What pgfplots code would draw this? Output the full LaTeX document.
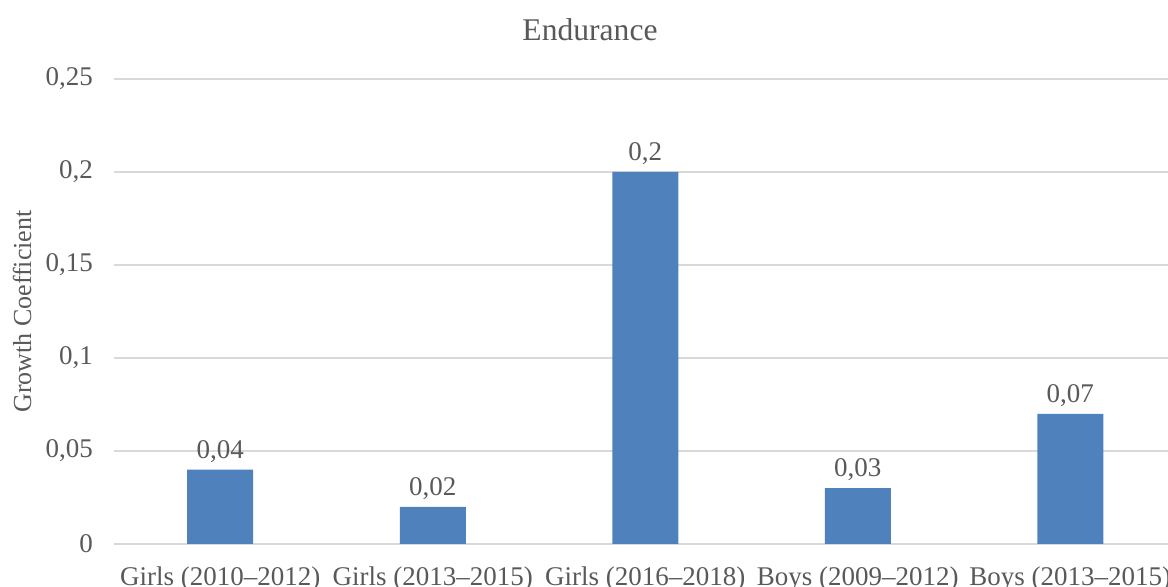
\documentclass[border=0pt]{standalone}
\usepackage{fontspec}
\setmainfont{Liberation Serif}
\usepackage{pgfplots}
\pgfplotsset{compat=1.18}
\definecolor{barblue}{HTML}{4F81BD}
\definecolor{txtgray}{HTML}{595959}
\definecolor{gridgray}{HTML}{D9D9D9}

\begin{document}
\begin{tikzpicture}
\path[use as bounding box] (-57pt,-21.5pt) rectangle (527pt,272pt);
\begin{axis}[
    at={(0pt,0pt)}, anchor=south west,
    scale only axis, width=527pt, height=232.5pt,
    ybar, bar width=33pt,
    xmin=-0.5, xmax=4.46, ymin=0, ymax=0.25,
    ytick={0,0.05,0.1,0.15,0.2,0.25},
    yticklabels={0,{0,05},{0,1},{0,15},{0,2},{0,25}},
    xtick=data,
    xticklabels={Girls (2010--2012),Girls (2013--2015),Girls (2016--2018),Boys (2009--2012),Boys (2013--2015)},
    axis line style={draw=none},
    major tick length=0pt,
    ymajorgrids, major grid style={gridgray, line width=0.8pt},
    tick label style={font=\fontsize{13.5}{16}\selectfont, text=txtgray},
    yticklabel style={xshift=-7pt},
    xticklabel style={yshift=-8pt},
    ylabel={Growth Coefficient},
    ylabel style={at={(axis description cs:-0.0873,0.5)}, anchor=center, font=\fontsize{13}{15}\selectfont, text=txtgray},
    point meta=explicit symbolic,
    nodes near coords={\pgfplotspointmeta},
    nodes near coords style={font=\fontsize{13.5}{16}\selectfont, text=txtgray},
    clip=false,
]
\addplot[fill=barblue, draw=none] coordinates {(0,0.04) [0,04] (1,0.02) [0,02] (2,0.2) [0,2] (3,0.03) [0,03] (4,0.07) [0,07]};
\end{axis}
\node[font=\fontsize{15.8}{18}\selectfont, text=txtgray] at (238pt,257pt) {Endurance};
\end{tikzpicture}
\end{document}
